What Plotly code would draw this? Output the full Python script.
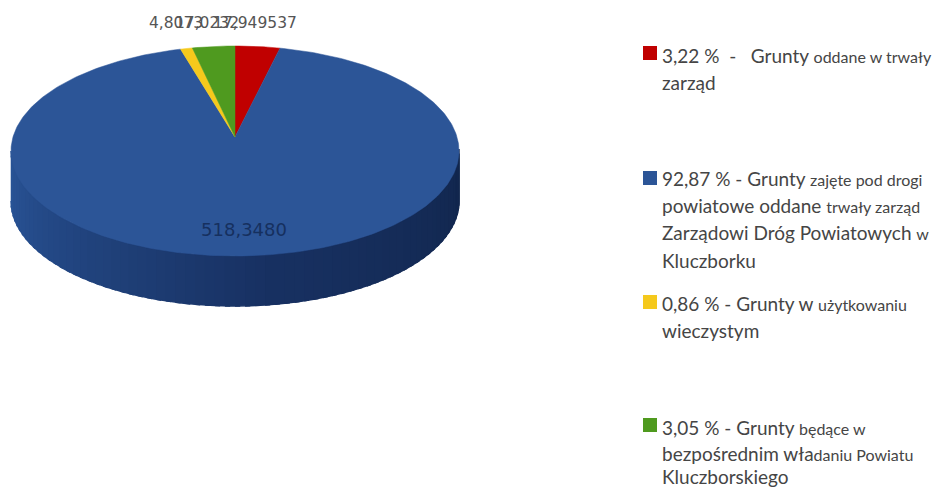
import numpy as np
import plotly.graph_objects as go

categories = ["Grunty oddane w trwały zarząd", "Grunty zajęte pod drogi", "Grunty w użytkowaniu wieczystym", "Grunty będące w bezpośrednim władaniu"]
shares = [3.22, 92.87, 0.86, 3.05]
value_labels = ["17,949537", "518,3480", "4,8073", "17,0232"]
colors = ["#c00000", "#2c5597", "#f5c91c", "#4f9a1f"]

FONT_BIG = "Lato"
TEXT = "#454545"
S = "<span style='font-size:16px'>"
E = "</span>"
legend_blocks = [
    (0, 53, [(55, f"3,22 %  -   Grunty {S}oddane w trwały{E}"), (82, "zarząd")]),
    (1, 178, [(178, f"92,87 % - Grunty {S}zajęte pod drogi{E}"),
              (205, f"powiatowe oddane {S}trwały zarząd{E}"),
              (232, f"Zarządowi Dróg Powiatowych {S}w{E}"),
              (260, "Kluczborku")]),
    (2, 302, [(303, f"0,86 % - Grunty w {S}użytkowaniu{E}"), (330, "wieczystym")]),
    (3, 425, [(427, f"3,05 % - Grunty {S}będące w{E}"),
              (453, f"bezpośrednim wła{S}daniu Powiatu{E}"),
              (476, "Kluczborskiego")]),
]

CX, CY, RX, RY = 235, 151, 224, 105
APEX_Y, DEPTH = 137, 50

fig = go.Figure()


def ell(t):
    return CX + RX * np.sin(t), CY - RY * np.cos(t)


def poly(x, y, color, w=0.0):
    fig.add_trace(go.Scatter(x=x, y=y, mode="lines", fill="toself", fillcolor=color,
                             line=dict(width=w, color=color), hoverinfo="skip", showlegend=False))


shade_from = np.array([0x2a, 0x55, 0x98])
shade_mid = np.array([0x18, 0x31, 0x62])
shade_to = np.array([0x12, 0x27, 0x4e])
N = 70
edges = np.linspace(np.pi * 1.5, np.pi * 0.5, N + 1)
for i in range(N):
    ts = np.linspace(edges[i], edges[i + 1] - 0.02, 4)
    x, y = ell(ts)
    px = np.concatenate([x, x[::-1]])
    py = np.concatenate([y, (y + DEPTH)[::-1]])
    f = i / (N - 1)
    c = shade_from + (shade_mid - shade_from) * (f / 0.55) if f < 0.55 else shade_mid + (shade_to - shade_mid) * ((f - 0.55) / 0.45)
    poly(px, py, "rgb(%d,%d,%d)" % tuple(int(v) for v in c), 1.5)

total = sum(shares)
start = 0.0
for share, color in zip(shares, colors):
    end = start + share / total * 2 * np.pi
    ts = np.linspace(start, end, max(8, int(share * 4)))
    x, y = ell(ts)
    poly(np.concatenate([[CX], x, [CX]]), np.concatenate([[APEX_Y], y, [APEX_Y]]), color, 0.5)
    start = end

fig.add_trace(go.Scatter(
    x=[176, 244, 207, 255], y=[24, 231, 24, 24], mode="text",
    text=[value_labels[2], value_labels[1], value_labels[3], value_labels[0]],
    textfont=dict(family="DejaVu Sans", size=[15.5, 18, 15.5, 15.5], color=["#555555", "#16305f", "#555555", "#555555"]),
    hoverinfo="skip", showlegend=False))

fig.add_trace(go.Scatter(
    x=[650] * 4, y=[b[1] for b in legend_blocks], mode="markers",
    marker=dict(symbol="square", size=14, color=[colors[b[0]] for b in legend_blocks]),
    hoverinfo="skip", showlegend=False))

annotations = []
for _, _, lines in legend_blocks:
    for y, txt in lines:
        annotations.append(dict(x=661, y=y, xref="x", yref="y", text=txt, showarrow=False,
                                xanchor="left", yanchor="middle", align="left", xshift=-1,
                                font=dict(family=FONT_BIG, size=19, color=TEXT)))

fig.update_layout(
    width=936, height=488, margin=dict(l=0, r=0, t=0, b=0),
    paper_bgcolor="white", plot_bgcolor="white", annotations=annotations,
    xaxis=dict(range=[0, 936], visible=False, fixedrange=True),
    yaxis=dict(range=[488, 0], visible=False, fixedrange=True),
)
fig.write_html("out.html", config=dict(displayModeBar=False),
               post_script="document.body.style.margin='0';document.body.style.overflow='hidden';")
